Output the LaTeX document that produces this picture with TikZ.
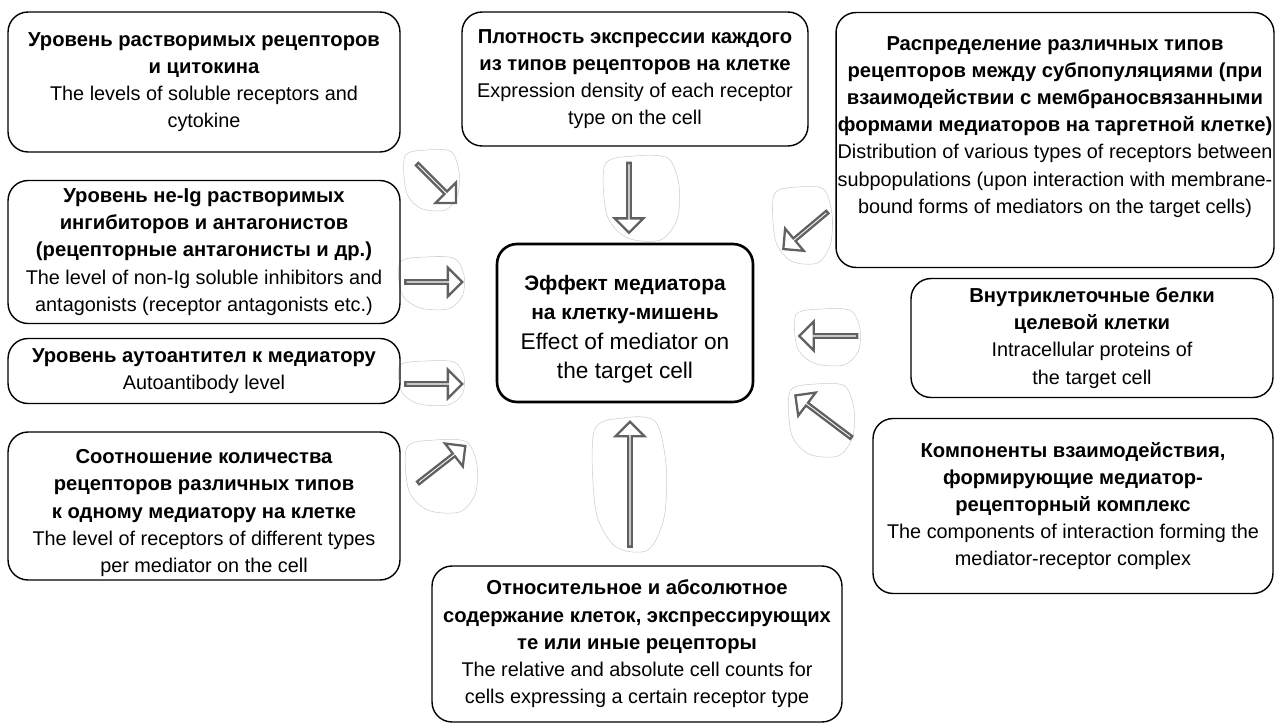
\documentclass[tikz,border=0pt]{standalone}
\usepackage{fontspec}
\setmainfont{Liberation Sans}
\usetikzlibrary{positioning,shapes.arrows}
\tikzset{node distance=2cm, auto}
\tikzset{
  box/.style={draw, rounded corners=0.4cm, align=center, line width=0.8pt,
    font=\fontsize{11.3}{15.5}\selectfont, inner sep=0pt},
  bigbox/.style={box, line width=1.5pt, font=\fontsize{12.9}{16.6}\selectfont},
  blk/.style={single arrow, draw=black!62, fill=white, line width=1.3pt,
    minimum width=0.58cm, single arrow head extend=0.17cm, inner sep=0pt,
    rotate=#1},
  blob/.style={draw=black!20, line width=0.3pt}
}
\newcommand{\hb}[1]{{\fontsize{11.5}{15.5}\selectfont\bfseries #1}}
\newcommand{\hbc}[1]{{\fontsize{11.9}{16.6}\selectfont\bfseries #1}}
% faint outline round an arrow: x, y, half width, half height
\newcommand{\blobat}[4]{\draw[blob, shift={(#1,#2)}, xscale=#3, yscale=#4]
  plot[smooth cycle] coordinates {(-1,-0.8) (-0.2,-1) (0.7,-0.95) (1,-0.3)
  (0.95,0.5) (0.5,1) (-0.4,0.95) (-0.95,0.4)};}

\begin{document}
\begin{tikzpicture}[x=0.02cm, y=-0.02cm]
\useasboundingbox (0,0) rectangle (1279,724);

\blobat{432}{180}{27}{30}
\blobat{642}{198}{37}{42}
\blobat{803}{225}{29}{38}
\blobat{432}{283}{32}{26}
\blobat{432}{383}{32}{22}
\blobat{442}{476}{35}{36}
\blobat{630}{484}{36}{66}
\blobat{828}{337}{32}{28}
\blobat{822}{420}{32}{36}

\node (lvl) [box, minimum width=7.84cm, minimum height=2.8cm] at (204,82)
  {\hb{Уровень растворимых рецепторов}\\\hb{и цитокина}\\
   The levels of soluble receptors and\\cytokine};
\node (dens) [box, minimum width=6.92cm, minimum height=2.68cm] at (635,79)
  {\hb{Плотность экспрессии каждого}\\\hb{из типов рецепторов на клетке}\\
   Expression density of each receptor\\type on the cell};
\node (distr) [box, minimum width=8.76cm, minimum height=5.1cm] at (1055,140)
  {\hb{Распределение различных типов}\\
   \hb{рецепторов между субпопуляциями (при}\\
   \hb{взаимодействии с мембраносвязанными}\\
   \hb{формами медиаторов на таргетной клетке)}\\
   Distribution of various types of receptors between\\
   subpopulations (upon interaction with membrane-\\
   bound forms of mediators on the target cells)\\[1.8pt]\mbox{}};
\node (inhib) [box, minimum width=7.84cm, minimum height=2.86cm] at (204,252)
  {\hb{Уровень не-Ig растворимых}\\\hb{ингибиторов и антагонистов}\\
   \hb{(рецепторные антагонисты и др.)}\\
   The level of non-Ig soluble inhibitors and\\
   antagonists (receptor antagonists etc.)};
\node (autoab) [box, minimum width=7.84cm, minimum height=1.3cm] at (204,371)
  {\hb{Уровень аутоантител к медиатору}\\Autoantibody level};
\node (ratio) [box, minimum width=7.84cm, minimum height=2.96cm] at (204,506)
  {\mbox{}\\[0.5pt]\hb{Соотношение количества}\\\hb{рецепторов различных типов}\\
   \hb{к одному медиатору на клетке}\\
   The level of receptors of different types\\per mediator on the cell};
\node (eff) [bigbox, minimum width=5.12cm, minimum height=3.16cm] at (625,323)
  {\mbox{}\\[-0.8pt]\hbc{Эффект медиатора}\\\hbc{на клетку-мишень}\\
   Effect of mediator on\\the target cell};
\node (intra) [box, minimum width=7.24cm, minimum height=2.38cm] at (1092,338)
  {\hb{Внутриклеточные белки}\\\hb{целевой клетки}\\
   Intracellular proteins of\\the target cell};
\node (comp) [box, minimum width=8.0cm, minimum height=3.5cm] at (1073,506)
  {\hb{Компоненты взаимодействия,}\\\hb{формирующие медиатор-}\\
   \hb{рецепторный комплекс}\\
   The components of interaction forming the\\mediator-receptor complex};
\node (cells) [box, minimum width=8.2cm, minimum height=3.12cm] at (637,644)
  {\hb{Относительное и абсолютное}\\
   \hb{содержание клеток, экспрессирующих}\\
   \hb{те или иные рецепторы}\\
   The relative and absolute cell counts for\\
   cells expressing a certain receptor type};

\node (a1) [blk=-45, minimum height=1.1cm] at (436,183) {};
\node (a2) [blk=-90, minimum height=1.4cm] at (629,197) {};
\node (a3) [blk=-140, minimum height=1.15cm] at (806,230) {};
\node (a4) [blk=0, minimum height=1.14cm] at (433,282) {};
\node (a5) [blk=0, minimum height=1.14cm] at (433,384) {};
\node (a6) [blk=38, minimum height=1.2cm] at (441,465) {};
\node (a7) [blk=90, minimum height=2.5cm] at (630,485) {};
\node (a8) [blk=180, minimum height=1.16cm] at (829,336) {};
\node (a9) [blk=143, minimum height=1.4cm] at (824,417) {};
\end{tikzpicture}
\end{document}
